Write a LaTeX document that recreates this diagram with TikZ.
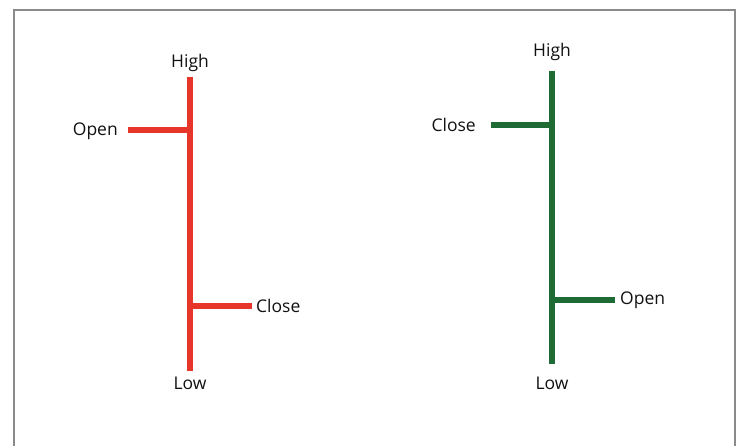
\documentclass[tikz,border=0pt]{standalone}
\usepackage{fontspec}
\setmainfont{Open Sans}
\definecolor{bearred}{HTML}{E8352A}
\definecolor{bullgreen}{HTML}{1F6B36}
\definecolor{framegray}{HTML}{8A8A8A}
\definecolor{labelink}{HTML}{111111}
\begin{document}
\begin{tikzpicture}[x=1pt,y=-1pt,
  wick/.style={line width=5.5pt,line cap=butt},
  lbl/.style={inner sep=0pt,text=labelink,font=\fontsize{17.5}{20}\selectfont}]
\useasboundingbox (0,0) rectangle (737,446);
% open-bottom frame
\draw[framegray,line width=2pt] (14,450) -- (14,10) -- (735,10) -- (735,450);

% bearish bar
\coordinate (rH) at (190,77);
\coordinate (rL) at (190,371);
\coordinate (rO) at (128,130);
\coordinate (rOa) at (190,130);
\coordinate (rC) at (252,306);
\coordinate (rCa) at (190,306);
\draw[wick,bearred] (rH) -- (rL);
\draw[wick,bearred] (rO) -- (rOa);
\draw[wick,bearred] (rCa) -- (rC);
\node[lbl] (rHigh) at (190,63) {High};
\node[lbl] (rLow) at (190,383) {Low};
\node[lbl,anchor=east] (rOpen) at (118,131) {Open};
\node[lbl,anchor=west] (rClose) at (256,306) {Close};

% bullish bar
\coordinate (gH) at (552,71);
\coordinate (gL) at (552,364);
\coordinate (gC) at (491,125);
\coordinate (gCa) at (552,125);
\coordinate (gO) at (615,300);
\coordinate (gOa) at (552,300);
\draw[wick,bullgreen] (gH) -- (gL);
\draw[wick,bullgreen] (gC) -- (gCa);
\draw[wick,bullgreen] (gOa) -- (gO);
\node[lbl] (gHigh) at (552,52) {High};
\node[lbl] (gLow) at (552,383) {Low};
\node[lbl,anchor=east] (gClose) at (476,125) {Close};
\node[lbl,anchor=west] (gOpen) at (620,300) {Open};
\end{tikzpicture}
\end{document}
